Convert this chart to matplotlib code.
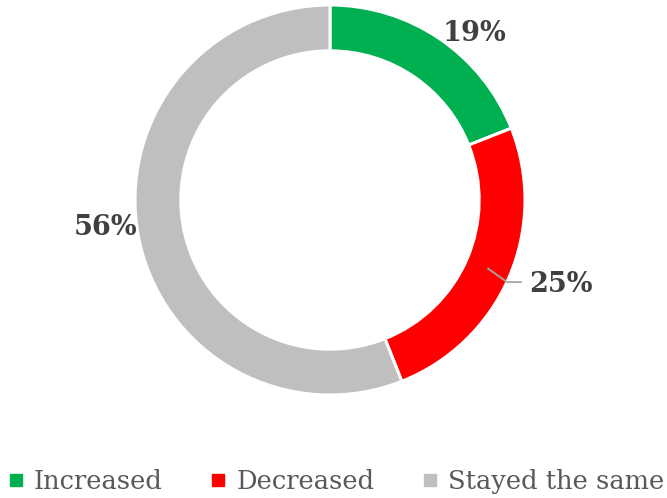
import matplotlib.pyplot as plt
from matplotlib.lines import Line2D
import math

categories = ["Increased", "Decreased", "Stayed the same"]
shares = [19, 25, 56]
colors = ["#00B050", "#FF0000", "#BFBFBF"]

# label placement (angle in degrees, radius in pie units)
label_pos = [(49, 1.13), (-20, 1.26), (187, 1.16)]

fig = plt.figure(figsize=(6.67, 4.98), dpi=100)
ax = fig.add_axes([0, 0, 1, 1])
ax.axis('off')

wedges, _ = ax.pie(shares, colors=colors, startangle=90, counterclock=False,
                   radius=1, wedgeprops=dict(width=0.235, edgecolor='white', linewidth=2.2))

ax.set_xlim(-330 / 195, 337 / 195)
ax.set_ylim(-298 / 195, 200 / 195)
ax.set_aspect('equal')

for i, w in enumerate(wedges):
    ang, r = label_pos[i]
    x = r * math.cos(math.radians(ang))
    y = r * math.sin(math.radians(ang))
    ax.text(x, y, f"{shares[i]}%", ha='center', va='center', fontsize=19.5,
            fontweight='bold', family='DejaVu Serif', color='#404040')
    if i == 1:
        mid = math.radians((w.theta1 + w.theta2) / 2)
        x0, y0 = 0.88 * math.cos(mid), 0.88 * math.sin(mid)
        ax.plot([x0, x0 + 0.1, x - 0.2], [y0, y + 0.01, y + 0.01],
                color='#A6A6A6', lw=1.3, solid_capstyle='butt')

handles = [Line2D([], [], marker='s', linestyle='none', markersize=8,
                  markerfacecolor=c, markeredgecolor=c) for c in colors]
fig.legend(handles, categories, loc='center', bbox_to_anchor=(0.502, 0.034),
           ncol=3, frameon=False, handletextpad=0.3, columnspacing=1.75,
           handlelength=0.8, borderpad=0, borderaxespad=0,
           prop=dict(family='DejaVu Serif', size=18.5), labelcolor='#595959')

fig.savefig('out.png', dpi=100)
